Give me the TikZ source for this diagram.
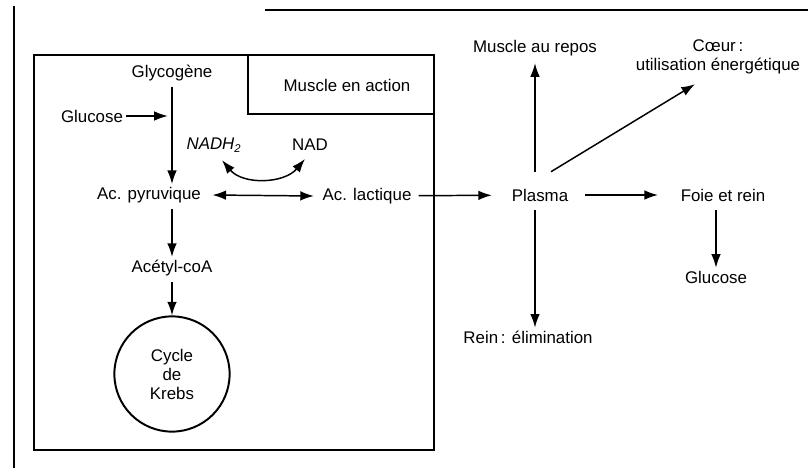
\documentclass[tikz,border=0pt]{standalone}
\usepackage{fontspec}
\setmainfont{Liberation Sans}
\usetikzlibrary{positioning,arrows.meta,calc}

\begin{document}
\begin{tikzpicture}[
    x=0.025cm, y=-0.025cm,
    txt/.style={font=\fontsize{12}{13.5}\selectfont, align=center, inner sep=2pt},
    flow/.style={-{Latex[length=3.4mm,width=2.4mm]}, line width=1.05pt},
    twoway/.style={{Latex[length=3.4mm,width=2.4mm]}-{Latex[length=3.4mm,width=2.4mm]}, line width=1.05pt}
]
\useasboundingbox (0,0) rectangle (808,468);

% Page edges
\draw[line width=1.6pt] (14,6) -- (14,468);
\draw[line width=1pt] (265,10) -- (808,10);

% Muscle box
\draw[line width=1.5pt] (34,55) rectangle (434,450);
\draw[line width=1.1pt] (248,55) |- (434,114);
\node[txt] (action) at (347,85) {Muscle en action};

% Inside the muscle
\node[txt] (glyco) at (172,73) {Glycogène};
\node[txt] (gluc) at (92,116) {Glucose};
\coordinate (gjoin) at (172,116);
\node[txt] (pyr) at (149,195) {Ac. pyruvique};
\node[txt] (lac) at (367,196) {Ac. lactique};
\node[txt] (nadh) at (214,145) {\textit{NADH\textsubscript{2}}};
\node[txt] (nad) at (310,145) {NAD};
\node[txt] (acetyl) at (172,268) {Acétyl-coA};
\node[draw, circle, line width=1.4pt, minimum size=2.88cm, txt] (krebs) at (172,374) {Cycle\\de\\Krebs};

% Outside
\node[txt] (plasma) at (540,195) {Plasma};
\node[txt] (repos) at (535,48) {Muscle au repos};
\node[txt] (coeur) at (718,57) {Cœur\,:\\utilisation énergétique};
\node[txt] (foie) at (723,195) {Foie et rein};
\node[txt] (glu2) at (716,277) {Glucose};
\node[txt] (rein) at (528,337) {Rein\,: élimination};

% Connections
\draw[flow] (gluc) -- ([xshift=-3pt]gjoin);
\draw[flow] ([yshift=-2pt]glyco.south) -- (glyco.south |- pyr.north);
\draw[twoway] ($(nadh.south)+(8,5)$) to[out=-50, in=-130] ($(nad.south)+(-5,5)$);
\draw[twoway] ([xshift=6pt]pyr.east) -- ([xshift=-4pt]lac.west);
\draw[flow] ([yshift=-2pt]acetyl.north |- pyr.south) -- (acetyl.north);
\draw[flow] ([yshift=-2pt]krebs.north |- acetyl.south) -- (krebs.north);
\draw[flow, shorten <=3pt, shorten >=12pt] (lac) -- (plasma);
\draw[flow, shorten <=10pt, shorten >=14pt] (plasma) -- (foie);
\draw[flow] ([yshift=-4pt]glu2.north |- foie.south) -- (glu2.north);
\draw[flow] ([yshift=10pt]repos.south |- plasma.north) -- ([yshift=-3pt]repos.south);
\draw[flow] ([yshift=-4pt]repos.south |- plasma.south) -- (repos.south |- rein.north);
\draw[flow] ($(plasma.north)+(11,-14)$) -- ($(coeur.south)+(-23,7)$);

\end{tikzpicture}
\end{document}
